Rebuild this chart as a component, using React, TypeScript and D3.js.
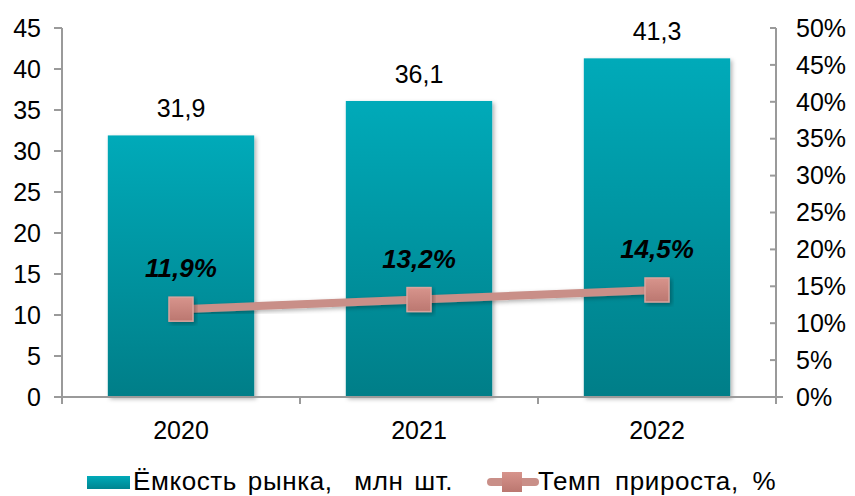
import React from "react";
import * as d3 from "d3";

const categories = ["2020", "2021", "2022"];
const capacity = [31.9, 36.1, 41.3];
const growth = [11.9, 13.2, 14.5];
const capacityLabels = ["31,9", "36,1", "41,3"];
const growthLabels = ["11,9%", "13,2%", "14,5%"];
const leftTicks = [0, 5, 10, 15, 20, 25, 30, 35, 40, 45];
const rightTicks = [0, 5, 10, 15, 20, 25, 30, 35, 40, 45, 50];
const legendLabels = ["Ёмкость рынка,  млн шт.", "Темп прироста, %"];

const W = 855, H = 496;
const left = 62, right = 776, top = 28, bottom = 397;
const FS = 25;

export default function App() {
  const x = d3.scaleBand<string>().domain(categories).range([left, right]).paddingInner(0.385).paddingOuter(0.1925);
  const xc = (c: string) => (x(c) as number) + x.bandwidth() / 2;
  const yL = d3.scaleLinear().domain([0, 45]).range([bottom, top]);
  const yR = d3.scaleLinear().domain([0, 50]).range([bottom, top]);
  const step = (right - left) / categories.length;
  const line = d3.line<number>().x((_, i) => xc(categories[i])).y((d) => yR(d));
  const axisColor = "#9a9a9a";
  const font = "Arial, 'Liberation Sans', sans-serif";

  return (
    <svg width={W} height={H} style={{ position: "absolute", left: 0, top: 0 }} fontFamily={font}>
      <defs>
        <linearGradient id="barGrad" x1="0" y1="0" x2="0" y2="1">
          <stop offset="0%" stopColor="#00aab9" />
          <stop offset="100%" stopColor="#007e88" />
        </linearGradient>
        <linearGradient id="legGrad" x1="0" y1="0" x2="0" y2="1">
          <stop offset="0%" stopColor="#00aab9" />
          <stop offset="100%" stopColor="#008590" />
        </linearGradient>
        <linearGradient id="mkGrad" x1="0" y1="0" x2="0" y2="1">
          <stop offset="0%" stopColor="#d7948c" />
          <stop offset="100%" stopColor="#bb7770" />
        </linearGradient>
        <filter id="shadow" x="-20%" y="-20%" width="140%" height="140%">
          <feDropShadow dx="2" dy="2" stdDeviation="2" floodColor="#000" floodOpacity="0.3" />
        </filter>
      </defs>
      <rect width={W} height={H} fill="#fff" />

      {/* bars */}
      {categories.map((c, i) => (
        <rect key={c} x={x(c)} y={yL(capacity[i])} width={x.bandwidth()} height={bottom - yL(capacity[i])}
          fill="url(#barGrad)" filter="url(#shadow)" />
      ))}

      {/* axes */}
      <line x1={left} x2={right} y1={bottom} y2={bottom} stroke={axisColor} strokeWidth={2} />
      <line x1={left} x2={left} y1={top} y2={bottom + 7} stroke={axisColor} strokeWidth={2} />
      <line x1={right} x2={right} y1={top} y2={bottom + 7} stroke={axisColor} strokeWidth={2} />
      {leftTicks.map((t) => (
        <g key={"l" + t}>
          <line x1={left - 8} x2={left} y1={yL(t)} y2={yL(t)} stroke={axisColor} strokeWidth={2} />
          <text x={left - 21} y={yL(t)} dy="0.35em" textAnchor="end" fontSize={FS} fill="#000">{t}</text>
        </g>
      ))}
      {rightTicks.map((t) => (
        <g key={"r" + t}>
          <line x1={right - 6} x2={right} y1={yR(t)} y2={yR(t)} stroke={axisColor} strokeWidth={2} />
          <text x={right + 20} y={yR(t)} dy="0.35em" textAnchor="start" fontSize={FS} fill="#000">{t}%</text>
        </g>
      ))}
      <line x1={right} x2={right + 7} y1={bottom} y2={bottom} stroke={axisColor} strokeWidth={2} />
      {categories.map((c, i) => i > 0 ? (
        <line key={"xt" + c} x1={left + step * i} x2={left + step * i} y1={bottom} y2={bottom + 7} stroke={axisColor} strokeWidth={2} />
      ) : null)}
      {categories.map((c) => (
        <text key={"xl" + c} x={xc(c)} y={430} dy="0.35em" textAnchor="middle" fontSize={FS} fill="#000">{c}</text>
      ))}

      {/* bar labels */}
      {categories.map((c, i) => (
        <text key={"bl" + c} x={xc(c)} y={yL(capacity[i]) - 27} dy="0.35em" textAnchor="middle" fontSize={FS} fill="#000">{capacityLabels[i]}</text>
      ))}

      {/* line */}
      <path d={line(growth) || ""} fill="none" stroke="#c98f88" strokeWidth={8} filter="url(#shadow)" />
      {categories.map((c, i) => (
        <rect key={"m" + c} x={xc(c) - 12} y={yR(growth[i]) - 12} width={24} height={24}
          fill="url(#mkGrad)" stroke="#d9a49e" strokeWidth={1.5} filter="url(#shadow)" />
      ))}
      {categories.map((c, i) => (
        <text key={"gl" + c} x={xc(c)} y={yR(growth[i]) - 41} dy="0.35em" textAnchor="middle" fontSize={26}
          fontWeight="bold" fontStyle="italic" fill="#000">{growthLabels[i]}</text>
      ))}

      {/* legend */}
      <rect x={87} y={476} width={43} height={13} fill="url(#legGrad)" />
      <text x={133} y={481} dy="0.35em" fontSize={26} fill="#000" letterSpacing={0.6} wordSpacing={3} style={{ whiteSpace: "pre" }}>{legendLabels[0]}</text>
      <line x1={491} x2={535} y1={482} y2={482} stroke="#c98f88" strokeWidth={8} strokeLinecap="round" />
      <rect x={502} y={472} width={20} height={20} fill="url(#mkGrad)" />
      <text x={538} y={481} dy="0.35em" fontSize={26} fill="#000" letterSpacing={0.6} wordSpacing={6} style={{ whiteSpace: "pre" }}>{legendLabels[1]}</text>
    </svg>
  );
}
